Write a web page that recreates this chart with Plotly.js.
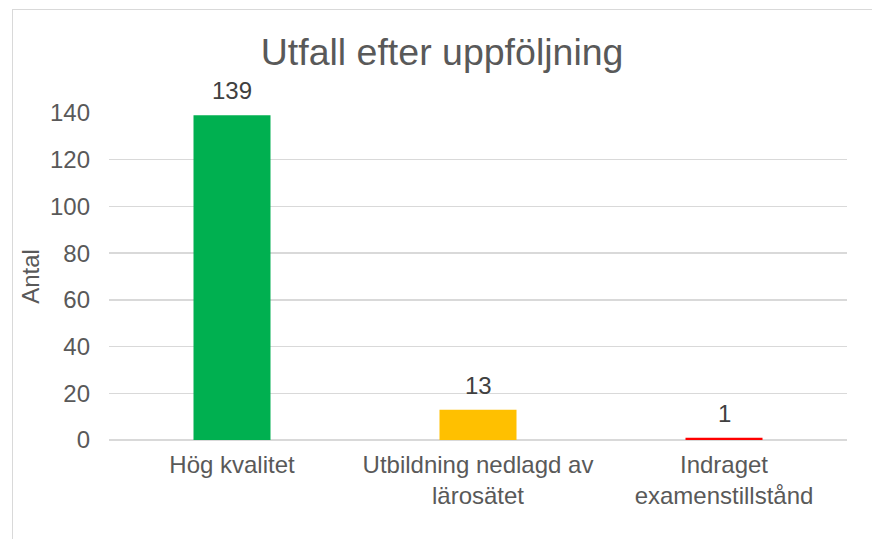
<!DOCTYPE html>
<html>
<head>
<meta charset="utf-8">
<script src="https://cdn.plot.ly/plotly-3.0.1.min.js"></script>
<style>
  body { margin: 0; overflow: hidden; background: #fff; }
  #frame { position: absolute; left: 12px; top: 9px; width: 900px; height: 600px; border: 1.5px solid #d9d9d9; }
  #plotArea { position: absolute; left: 0; top: 0; width: 872px; height: 539px; }
</style>
</head>
<body>
<div id="frame"></div>
<div id="plotArea"></div>
<script>
// kategorier och antal
var categories = ["Hög kvalitet", "Utbildning nedlagd av<br>lärosätet", "Indraget<br>examenstillstånd"];
var counts = [139, 13, 1];
var barColors = ["#00B050", "#FFC000", "#FF0000"];
var yTicks = [0, 20, 40, 60, 80, 100, 120, 140];

var trace = {
    x: categories,
    y: counts,
    type: "bar",
    marker: {color: barColors},
    hoverinfo: "none"
};

// datalabels ovanför staplarna
var labels = categories.map(function (c, i) {
    return {
        x: c, y: counts[i], xref: "x", yref: "y",
        text: String(counts[i]),
        showarrow: false,
        yanchor: "bottom",
        yshift: 9,
        font: {family: "Liberation Sans, Arial", size: 24, color: "#404040"}
    };
});

var layout = {
    width: 872,
    height: 539,
    margin: {l: 109, r: 25, t: 113, b: 99},
    paper_bgcolor: "rgba(0,0,0,0)",
    plot_bgcolor: "rgba(0,0,0,0)",
    bargap: 0.687,
    showlegend: false,
    font: {family: "Liberation Sans, Arial", size: 24, color: "#595959"},
    title: {
        text: "Utfall efter uppföljning",
        font: {size: 37.5, color: "#595959"},
        x: 0.507, xanchor: "center",
        y: 1 - 52 / 539, yref: "container", yanchor: "middle"
    },
    xaxis: {
        showgrid: false,
        zeroline: false,
        showline: false,
        ticks: "",
        tickfont: {size: 24, color: "#595959"},
        ticklabelstandoff: 8
    },
    yaxis: {
        range: [0, 140],
        tickvals: yTicks,
        showgrid: true,
        gridcolor: "#d9d9d9",
        gridwidth: 1.5,
        zeroline: true,
        zerolinecolor: "#d9d9d9",
        zerolinewidth: 1.5,
        ticks: "",
        ticklabelstandoff: 18,
        tickfont: {size: 24, color: "#595959"},
        title: {text: "Antal", font: {size: 24, color: "#595959"}, standoff: 3}
    },
    annotations: labels
};

Plotly.newPlot("plotArea", [trace], layout, {staticPlot: true});
</script>
</body>
</html>
